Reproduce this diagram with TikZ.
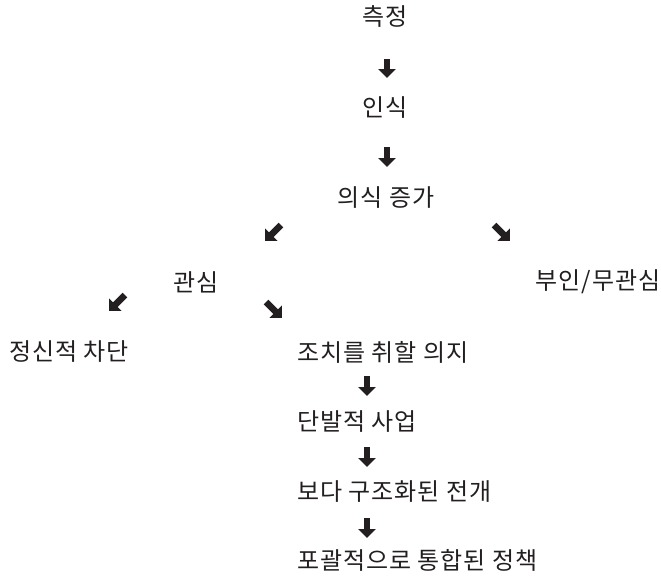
\documentclass[tikz,border=0pt]{standalone}
\usepackage{fontspec}
\newfontfamily\kr[LetterSpace=4]{Noto Sans CJK KR}
\usetikzlibrary{arrows.meta}
\definecolor{ink}{HTML}{231F20}
\tikzset{
  lbl/.style={font=\kr\fontsize{24}{28}\selectfont, text=ink, inner sep=0pt},
  lblw/.style={lbl, anchor=west},
  blk/.style={draw=ink, line width=6.5pt, line cap=butt, -{Triangle[length=9pt,width=17pt]}}
}
\begin{document}
\begin{tikzpicture}[x=1pt,y=-1pt]
\useasboundingbox (0,0) rectangle (661,582);
\node[lbl] (n1) at (385,16) {측정};
\node[lbl] (n2) at (385,108) {인식};
\node[lbl] (n3) at (386,198) {의식 증가};
\node[lbl] (n4) at (196,282) {관심};
\node[lbl] (n5) at (598,282) {부인/무관심};
\node[lbl] (n6) at (69,352) {정신적 차단};
\node[lblw] (n7) at (297,352) {조치를 취할 의지};
\node[lblw] (n8) at (297,422) {단발적 사업};
\node[lblw] (n9) at (297,492) {보다 구조화된 전개};
\node[lblw] (n10) at (297,560) {포괄적으로 통합된 정책};
% arrow coordinates
\coordinate (a1s) at (387,59);  \coordinate (a1e) at (387,78);
\coordinate (a2s) at (387,147); \coordinate (a2e) at (387,167);
\coordinate (a3s) at (281,225); \coordinate (a3e) at (265,241);
\coordinate (a4s) at (494,225); \coordinate (a4e) at (510,241);
\coordinate (a5s) at (125,295); \coordinate (a5e) at (109,311);
\coordinate (a6s) at (266,302); \coordinate (a6e) at (282,318);
\coordinate (a7s) at (367,376); \coordinate (a7e) at (367,396);
\coordinate (a8s) at (367,447); \coordinate (a8e) at (367,467);
\coordinate (a9s) at (367,518); \coordinate (a9e) at (367,538);
\draw[blk] (a1s) -- (a1e);
\draw[blk] (a2s) -- (a2e);
\draw[blk] (a3s) -- (a3e);
\draw[blk] (a4s) -- (a4e);
\draw[blk] (a5s) -- (a5e);
\draw[blk] (a6s) -- (a6e);
\draw[blk] (a7s) -- (a7e);
\draw[blk] (a8s) -- (a8e);
\draw[blk] (a9s) -- (a9e);
\end{tikzpicture}
\end{document}
